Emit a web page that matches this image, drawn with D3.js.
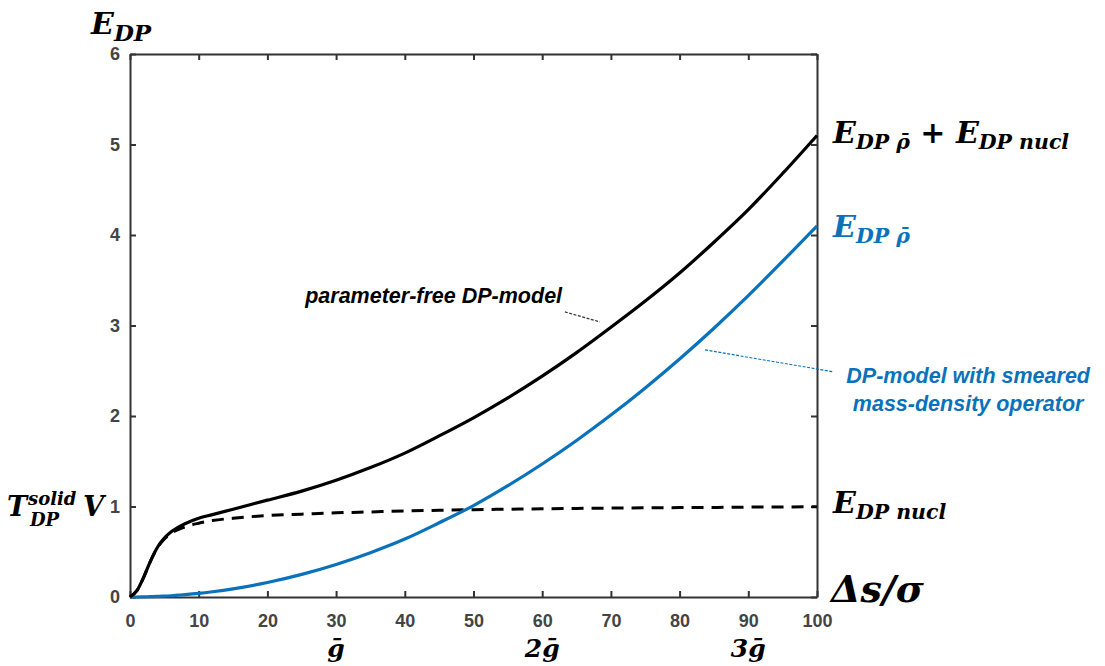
<!DOCTYPE html>
<html>
<head>
<meta charset="utf-8">
<script src="https://cdn.jsdelivr.net/npm/d3@7"></script>
<style>
  body { margin: 0; background: #fff; }
  .tick text { font-family: 'Liberation Sans', Arial, sans-serif; font-weight: bold; font-size: 18px; fill: #444; }
  .math { font-family: 'DejaVu Serif', serif; font-weight: bold; font-style: italic; }
  .note { font-family: 'Liberation Sans', Arial, sans-serif; font-weight: bold; font-style: italic; font-size: 21.5px; }
</style>
</head>
<body>
<svg width="1105" height="666"></svg>
<script>
var svg = d3.select('svg');
var svgWidth = +svg.attr('width');
var svgHeight = +svg.attr('height');

var padding = {t: 54, r: 288, b: 69, l: 130};
var chartWidth = svgWidth - padding.l - padding.r;
var chartHeight = svgHeight - padding.t - padding.b;

// values
var sValues     = [0, 1, 2, 3, 4, 5, 6, 7, 8, 10, 12, 15, 20, 25, 30, 35, 40, 45, 50, 55, 60, 65, 70, 75, 80, 85, 90, 95, 100];
var totalValues = [0, 0.07, 0.22, 0.4, 0.55, 0.65, 0.72, 0.77, 0.81, 0.87, 0.91, 0.97, 1.07, 1.17, 1.29, 1.43, 1.59, 1.78, 1.98, 2.2, 2.44, 2.7, 2.98, 3.27, 3.58, 3.92, 4.28, 4.68, 5.1];
var nuclValues  = [0, 0.07, 0.22, 0.4, 0.545, 0.64, 0.705, 0.745, 0.775, 0.815, 0.845, 0.87, 0.9, 0.915, 0.93, 0.94, 0.95, 0.958, 0.965, 0.97, 0.975, 0.979, 0.982, 0.985, 0.988, 0.99, 0.993, 0.995, 0.997];
var rhoValues   = [0, 0, 0.002, 0.004, 0.006, 0.01, 0.014, 0.02, 0.026, 0.04, 0.058, 0.09, 0.16, 0.25, 0.36, 0.49, 0.64, 0.82, 1.01, 1.23, 1.47, 1.73, 2.01, 2.31, 2.63, 2.97, 3.33, 3.71, 4.1];

var xTicks = [0, 10, 20, 30, 40, 50, 60, 70, 80, 90, 100];
var yTicks = [0, 1, 2, 3, 4, 5, 6];
var gBarTicks = [30, 60, 90];
var gBarLabels = ['ḡ', '2ḡ', '3ḡ'];

var blue = '#0a72bb';

var xScale = d3.scaleLinear().domain([0, 100]).range([0, chartWidth]);
var yScale = d3.scaleLinear().domain([0, 6]).range([chartHeight, 0]);

var chartG = svg.append('g')
    .attr('transform', 'translate(' + [padding.l, padding.t] + ')');

// axes box, ticks pointing inward on all four sides
function styleAxis(g) {
  g.select('.domain').attr('stroke', '#333').attr('stroke-width', 2);
  g.selectAll('.tick line').attr('stroke', '#333').attr('stroke-width', 2);
}

chartG.append('g')
    .attr('transform', 'translate(0,' + chartHeight + ')')
    .call(d3.axisBottom(xScale).tickValues(xTicks).tickSizeInner(-6).tickSizeOuter(0).tickPadding(17).tickFormat(d3.format('d')))
    .call(styleAxis);

chartG.append('g')
    .call(d3.axisLeft(yScale).tickValues(yTicks).tickSizeInner(-6).tickSizeOuter(0).tickPadding(10).tickFormat(d3.format('d')))
    .call(styleAxis);

chartG.append('g')
    .call(d3.axisTop(xScale).tickValues(xTicks).tickSizeInner(-6).tickSizeOuter(0).tickFormat(''))
    .call(styleAxis);

chartG.append('g')
    .attr('transform', 'translate(' + chartWidth + ',0)')
    .call(d3.axisRight(yScale).tickValues(yTicks).tickSizeInner(-6).tickSizeOuter(0).tickFormat(''))
    .call(styleAxis);

// curves
function series(vals) {
  return sValues.map(function(s, i) { return {s: s, v: vals[i]}; });
}
var line = d3.line()
    .x(function(d) { return xScale(d.s); })
    .y(function(d) { return yScale(d.v); })
    .curve(d3.curveMonotoneX);

chartG.append('path')
    .datum(series(nuclValues))
    .attr('d', line)
    .attr('fill', 'none')
    .attr('stroke', '#000')
    .attr('stroke-width', 3)
    .attr('stroke-dasharray', '12,8');

chartG.append('path')
    .datum(series(rhoValues))
    .attr('d', line)
    .attr('fill', 'none')
    .attr('stroke', blue)
    .attr('stroke-width', 3.2);

chartG.append('path')
    .datum(series(totalValues))
    .attr('d', line)
    .attr('fill', 'none')
    .attr('stroke', '#000')
    .attr('stroke-width', 3.2);

// annotation leader lines (data units)
var leaders = [
  {x1: 63.3, y1: 3.15, x2: 68.4, y2: 3.04, color: '#333'},
  {x1: 83.7, y1: 2.73, x2: 102.3, y2: 2.49, color: blue}
];
chartG.selectAll('.leader')
    .data(leaders)
    .enter()
    .append('line')
    .attr('class', 'leader')
    .attr('x1', function(d) { return xScale(d.x1); })
    .attr('y1', function(d) { return yScale(d.y1); })
    .attr('x2', function(d) { return xScale(d.x2); })
    .attr('y2', function(d) { return yScale(d.y2); })
    .attr('stroke', function(d) { return d.color; })
    .attr('stroke-width', 1.2)
    .attr('stroke-dasharray', '3,1.5');

chartG.append('text')
    .attr('class', 'note')
    .attr('x', xScale(25.5))
    .attr('y', yScale(3.25))
    .text('parameter-free DP-model');

var blueNote = chartG.append('text')
    .attr('class', 'note')
    .attr('fill', blue)
    .attr('text-anchor', 'middle');
blueNote.append('tspan')
    .attr('x', xScale(122))
    .attr('y', yScale(2.37))
    .text('DP-model with smeared');
blueNote.append('tspan')
    .attr('x', xScale(122))
    .attr('y', yScale(2.06))
    .text('mass-density operator');

// math labels
function mathLabel(x, y, parts, color) {
  var t = svg.append('text')
      .attr('class', 'math')
      .attr('x', x)
      .attr('y', y)
      .attr('fill', color || '#000');
  parts.forEach(function(p) {
    t.append('tspan')
        .attr('font-size', p.size)
        .attr('dy', p.dy || 0)
        .attr('dx', p.dx || 0)
        .text(p.text);
  });
  return t;
}

// y label at top
mathLabel(91, 34, [
  {text: 'E', size: 30},
  {text: 'DP', size: 23, dy: 7}
]);

// right labels
var labelX = padding.l + chartWidth + 16;
mathLabel(labelX, padding.t + yScale(5.02), [
  {text: 'E', size: 30},
  {text: 'DP ρ̄', size: 20.5, dy: 6},
  {text: ' + ', size: 30, dy: -6},
  {text: 'E', size: 30},
  {text: 'DP nucl', size: 20.5, dy: 6}
]);
mathLabel(labelX, padding.t + yScale(3.98), [
  {text: 'E', size: 30},
  {text: 'DP ρ̄', size: 20.5, dy: 6}
], blue);
mathLabel(labelX, padding.t + yScale(0.93), [
  {text: 'E', size: 30},
  {text: 'DP nucl', size: 20.5, dy: 6}
]);

// x-axis label
mathLabel(labelX - 2, padding.t + yScale(-0.06), [
  {text: 'Δs/σ', size: 38}
]);

// T_DP^solid V next to y = 1
var ty = padding.t + yScale(1) + 9;
mathLabel(7, ty, [{text: 'T', size: 27}]);
mathLabel(28, ty - 11, [{text: 'solid', size: 18}]);
mathLabel(30, ty + 10, [{text: 'DP', size: 18}]);
mathLabel(83, ty, [{text: 'V', size: 27}]);

// g-bar multiples under the axis
svg.selectAll('.gbar')
    .data(gBarTicks)
    .enter()
    .append('text')
    .attr('class', 'math gbar')
    .attr('x', function(d) { return padding.l + xScale(d); })
    .attr('y', 657)
    .attr('text-anchor', 'middle')
    .attr('font-size', 25)
    .text(function(d, i) { return gBarLabels[i]; });
</script>
</body>
</html>
